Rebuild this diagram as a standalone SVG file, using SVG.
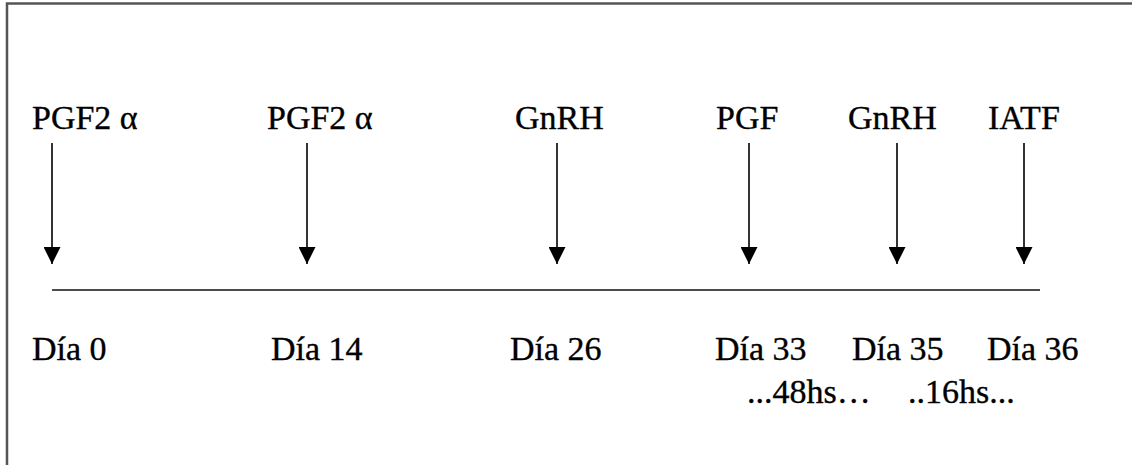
<svg xmlns="http://www.w3.org/2000/svg" width="1132" height="465" viewBox="0 0 1132 465">
  <style>
    .lbl { font-family: "Liberation Serif", "Times New Roman", serif; font-size: 34px; fill: #000; stroke: #000; stroke-width: 0.35; }
    .shaft { stroke: #333; stroke-width: 2; fill: none; }
    .frame { stroke: #555; stroke-width: 2.5; fill: none; }
  </style>
  <defs>
    <!-- arrowhead: tip at the end of the line, 17px long and wide -->
    <marker id="head" viewBox="0 0 17 17" refX="17" refY="8.5" markerWidth="17" markerHeight="17" markerUnits="userSpaceOnUse" orient="auto">
      <path d="M0,0 L17,8.5 L0,17 Z" fill="#000"/>
    </marker>
  </defs>

  <rect width="1132" height="465" fill="#fff"/>

  <!-- page frame: top and left edges -->
  <path class="frame" d="M7,465 L7,3.5 L1132,3.5"/>

  <!-- timeline and event arrows -->
  <g id="connectors">
    <line x1="52" y1="290" x2="1040" y2="290" stroke="#111" stroke-width="1.6"/>
    <line class="shaft" x1="52" y1="143" x2="52" y2="264" marker-end="url(#head)"/>
    <line class="shaft" x1="307" y1="143" x2="307" y2="264" marker-end="url(#head)"/>
    <line class="shaft" x1="557" y1="143" x2="557" y2="264" marker-end="url(#head)"/>
    <line class="shaft" x1="749" y1="143" x2="749" y2="264" marker-end="url(#head)"/>
    <line class="shaft" x1="897" y1="143" x2="897" y2="264" marker-end="url(#head)"/>
    <line class="shaft" x1="1024" y1="143" x2="1024" y2="264" marker-end="url(#head)"/>
  </g>

  <g id="event-d0">
    <text class="lbl" x="32" y="129">PGF2 α</text>
    <text class="lbl" x="32" y="360">Día 0</text>
  </g>
  <g id="event-d14">
    <text class="lbl" x="267" y="129">PGF2 α</text>
    <text class="lbl" x="271" y="360">Día 14</text>
  </g>
  <g id="event-d26">
    <text class="lbl" x="515" y="129">GnRH</text>
    <text class="lbl" x="510" y="360">Día 26</text>
  </g>
  <g id="event-d33">
    <text class="lbl" x="716" y="129">PGF</text>
    <text class="lbl" x="715" y="360">Día 33</text>
  </g>
  <g id="event-d35">
    <text class="lbl" x="848" y="129">GnRH</text>
    <text class="lbl" x="852" y="360">Día 35</text>
  </g>
  <g id="event-d36">
    <text class="lbl" x="988" y="129">IATF</text>
    <text class="lbl" x="987" y="360">Día 36</text>
  </g>
  <g id="intervals">
    <text class="lbl" x="747" y="403">...48hs…</text>
    <text class="lbl" x="908" y="403">..16hs...</text>
  </g>
</svg>
